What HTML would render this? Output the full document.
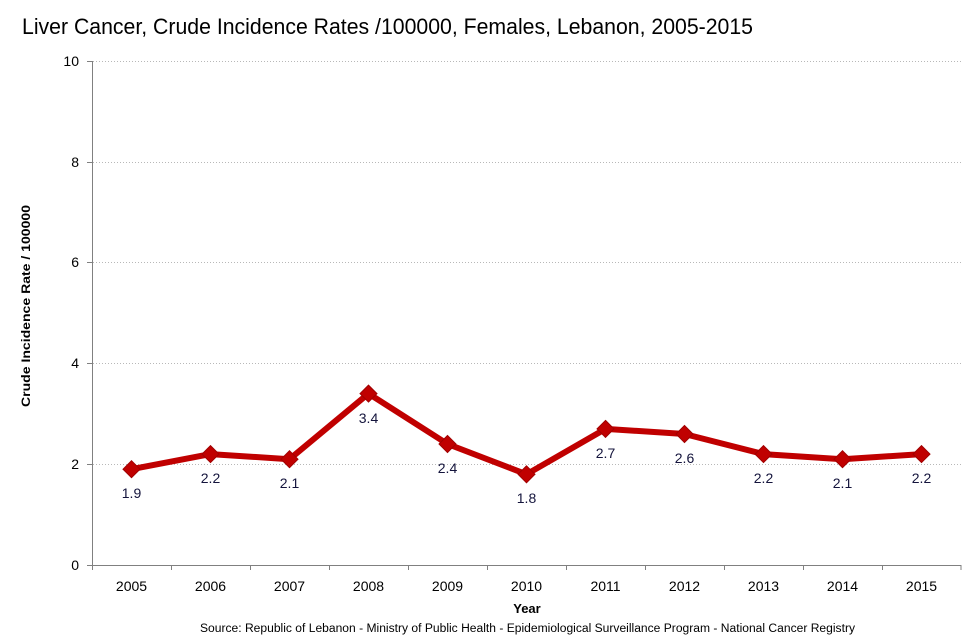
<!DOCTYPE html>
<html>
<head>
<meta charset="utf-8">
<style>
html,body{margin:0;padding:0;background:#fff;}
svg{display:block;font-family:"Liberation Sans",sans-serif;}
</style>
</head>
<body>
<svg width="976" height="637" viewBox="0 0 976 637" xmlns="http://www.w3.org/2000/svg">
<rect width="976" height="637" fill="#fff"/>
<text x="22" y="34" font-size="22" fill="#000" textLength="731" lengthAdjust="spacingAndGlyphs">Liver Cancer, Crude Incidence Rates /100000,  Females, Lebanon, 2005-2015</text>

<!-- gridlines -->
<g stroke="#b8b8b8" stroke-width="1" stroke-dasharray="1,2">
<line x1="93" y1="61.5" x2="961" y2="61.5"/>
<line x1="93" y1="162.5" x2="961" y2="162.5"/>
<line x1="93" y1="262.5" x2="961" y2="262.5"/>
<line x1="93" y1="363.5" x2="961" y2="363.5"/>
<line x1="93" y1="464.5" x2="961" y2="464.5"/>
</g>

<!-- axes -->
<g stroke="#808080" stroke-width="1">
<line x1="92.5" y1="61" x2="92.5" y2="565"/>
<line x1="92" y1="565.5" x2="961" y2="565.5"/>
<line x1="87" y1="61.5" x2="92" y2="61.5"/>
<line x1="87" y1="162.5" x2="92" y2="162.5"/>
<line x1="87" y1="262.5" x2="92" y2="262.5"/>
<line x1="87" y1="363.5" x2="92" y2="363.5"/>
<line x1="87" y1="464.5" x2="92" y2="464.5"/>
<line x1="87" y1="565.5" x2="92" y2="565.5"/>
<line x1="92.5" y1="565" x2="92.5" y2="570"/>
<line x1="171.5" y1="565" x2="171.5" y2="570"/>
<line x1="250.5" y1="565" x2="250.5" y2="570"/>
<line x1="329.5" y1="565" x2="329.5" y2="570"/>
<line x1="408.5" y1="565" x2="408.5" y2="570"/>
<line x1="487.5" y1="565" x2="487.5" y2="570"/>
<line x1="566.5" y1="565" x2="566.5" y2="570"/>
<line x1="645.5" y1="565" x2="645.5" y2="570"/>
<line x1="724.5" y1="565" x2="724.5" y2="570"/>
<line x1="803.5" y1="565" x2="803.5" y2="570"/>
<line x1="882.5" y1="565" x2="882.5" y2="570"/>
<line x1="961" y1="565" x2="961" y2="570"/>
</g>

<!-- y tick labels -->
<g font-size="14" fill="#000" text-anchor="end">
<text x="79" y="66">10</text>
<text x="79" y="167">8</text>
<text x="79" y="267">6</text>
<text x="79" y="368">4</text>
<text x="79" y="469">2</text>
<text x="79" y="570">0</text>
</g>

<!-- x tick labels -->
<g font-size="14" fill="#000" text-anchor="middle">
<text x="131.5" y="591">2005</text>
<text x="210.5" y="591">2006</text>
<text x="289.5" y="591">2007</text>
<text x="368.5" y="591">2008</text>
<text x="447.5" y="591">2009</text>
<text x="526.5" y="591">2010</text>
<text x="605.5" y="591">2011</text>
<text x="684.5" y="591">2012</text>
<text x="763.5" y="591">2013</text>
<text x="842.5" y="591">2014</text>
<text x="921.5" y="591">2015</text>
</g>

<text x="527" y="613" font-size="13" font-weight="bold" text-anchor="middle" fill="#000">Year</text>
<text x="200" y="632" font-size="11.5" fill="#000" textLength="655" lengthAdjust="spacingAndGlyphs">Source:  Republic of Lebanon - Ministry of Public Health - Epidemiological Surveillance Program - National Cancer Registry</text>

<text transform="translate(30,306) rotate(-90)" font-size="12" font-weight="bold" text-anchor="middle" fill="#000" textLength="202" lengthAdjust="spacingAndGlyphs">Crude Incidence Rate / 100000</text>

<!-- series -->
<polyline fill="none" stroke="#c00000" stroke-width="6" stroke-linejoin="round"
points="131.5,469.2 210.5,454.1 289.5,459.2 368.5,393.6 447.5,444.0 526.5,474.3 605.5,428.9 684.5,434.0 763.5,454.1 842.5,459.2 921.5,454.1"/>
<g fill="#c00000" stroke="#a00000" stroke-width="1">
<path d="M131.5,460.7 l8.5,8.5 l-8.5,8.5 l-8.5,-8.5z"/>
<path d="M210.5,445.6 l8.5,8.5 l-8.5,8.5 l-8.5,-8.5z"/>
<path d="M289.5,450.7 l8.5,8.5 l-8.5,8.5 l-8.5,-8.5z"/>
<path d="M368.5,385.1 l8.5,8.5 l-8.5,8.5 l-8.5,-8.5z"/>
<path d="M447.5,435.5 l8.5,8.5 l-8.5,8.5 l-8.5,-8.5z"/>
<path d="M526.5,465.8 l8.5,8.5 l-8.5,8.5 l-8.5,-8.5z"/>
<path d="M605.5,420.4 l8.5,8.5 l-8.5,8.5 l-8.5,-8.5z"/>
<path d="M684.5,425.5 l8.5,8.5 l-8.5,8.5 l-8.5,-8.5z"/>
<path d="M763.5,445.6 l8.5,8.5 l-8.5,8.5 l-8.5,-8.5z"/>
<path d="M842.5,450.7 l8.5,8.5 l-8.5,8.5 l-8.5,-8.5z"/>
<path d="M921.5,445.6 l8.5,8.5 l-8.5,8.5 l-8.5,-8.5z"/>
</g>

<!-- data labels -->
<g font-size="14" fill="#14143c" text-anchor="middle">
<text x="131.5" y="498">1.9</text>
<text x="210.5" y="483">2.2</text>
<text x="289.5" y="488">2.1</text>
<text x="368.5" y="423">3.4</text>
<text x="447.5" y="473">2.4</text>
<text x="526.5" y="503">1.8</text>
<text x="605.5" y="458">2.7</text>
<text x="684.5" y="463">2.6</text>
<text x="763.5" y="483">2.2</text>
<text x="842.5" y="488">2.1</text>
<text x="921.5" y="483">2.2</text>
</g>
</svg>
</body>
</html>
